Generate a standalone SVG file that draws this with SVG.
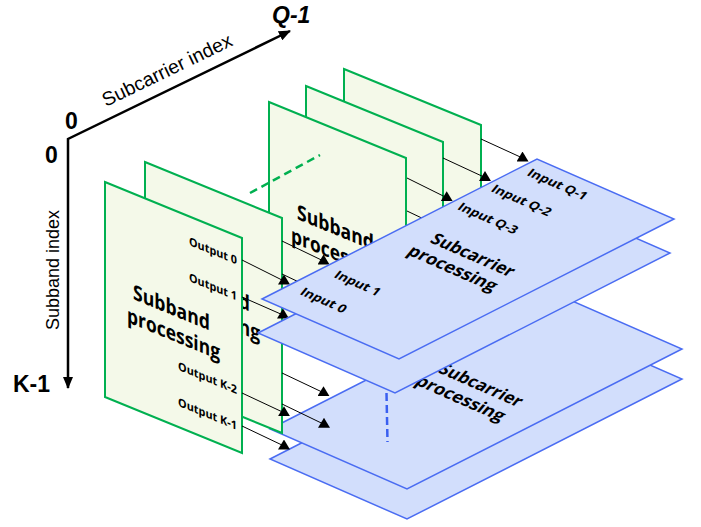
<svg xmlns="http://www.w3.org/2000/svg" width="701" height="527" viewBox="0 0 701 527">
<defs>
<style>
.gp{fill:#f4f9e9;stroke:#00b050;stroke-width:2}
.bp{fill:#d2defc;stroke:#4a6cf2;stroke-width:1.5}
.t{font-family:"Open Sans",Lato,"Liberation Sans",sans-serif;font-weight:bold;fill:#000}
.ax{font-family:"Liberation Sans",Arial,sans-serif;fill:#000}
.big{font-weight:bold;font-size:23px}
#connectors line{stroke:#000;stroke-width:1;marker-end:url(#tri)}
</style>
<marker id="tri" markerUnits="userSpaceOnUse" viewBox="0 0 12 10" markerWidth="12" markerHeight="10" refX="6" refY="6.5" orient="0"><path d="M0,10 L6,0 L12,10 Z" fill="#000"/></marker>
<marker id="axe" markerUnits="userSpaceOnUse" viewBox="0 0 12 10" markerWidth="12" markerHeight="10" refX="11" refY="5" orient="auto"><path d="M0,0 L12,5 L0,10 Z" fill="#000"/></marker>
<marker id="axs" markerUnits="userSpaceOnUse" viewBox="0 0 12 10" markerWidth="12" markerHeight="10" refX="11" refY="5" orient="auto-start-reverse"><path d="M0,0 L12,5 L0,10 Z" fill="#000"/></marker>
</defs>

<g id="axes">
<path d="M290,31 L68,139 L68,388" fill="none" stroke="#000" stroke-width="2.5" marker-start="url(#axs)" marker-end="url(#axe)"/>
<text class="ax" font-size="19.5" transform="translate(106,107) rotate(-25.9)" textLength="142" lengthAdjust="spacingAndGlyphs">Subcarrier index</text>
<text class="ax" font-size="18" transform="translate(59,330) rotate(-90)">Subband index</text>
<text class="ax big" x="65" y="129">0</text>
<text class="ax big" x="45" y="163">0</text>
<text class="ax big" x="272" y="23" font-style="italic">Q-1</text>
<text class="ax big" x="13" y="392">K-1</text>
</g>

<g id="subband-R3"><polygon class="gp" points="344,69 481,125 481,340 344,284"/></g>
<g id="subband-R2"><polygon class="gp" points="306,86 443,142 443,357 306,301"/></g>
<g id="subband-R1">
<polygon class="gp" points="269,102 406,158 406,373 269,317"/>
<text class="t" font-size="21" transform="matrix(1,0.41,0,1,297,219)" textLength="77" lengthAdjust="spacingAndGlyphs">Subband</text>
<text class="t" font-size="21" transform="matrix(1,0.41,0,1,291,242)" textLength="93" lengthAdjust="spacingAndGlyphs">processing</text>
</g>
<g id="subband-ellipsis"><line x1="250" y1="193" x2="320" y2="155" stroke="#00b050" stroke-width="2.5" stroke-dasharray="8,5"/></g>

<g id="subcarrier-P4"><polygon class="bp" points="270,459 545,319 682,379 407,519"/></g>
<g id="subcarrier-P3">
<polygon class="bp" points="270,429 545,289 682,349 407,489"/>
<text class="t" font-size="17.5" transform="matrix(0.916,0.401,-0.64,0.77,437,372)" textLength="88" lengthAdjust="spacingAndGlyphs">Subcarrier</text>
<text class="t" font-size="17.5" transform="matrix(0.916,0.401,-0.64,0.77,414,384)" textLength="94" lengthAdjust="spacingAndGlyphs">processing</text>
</g>

<g id="subband-L2">
<polygon class="gp" points="145,162 282,218 282,433 145,377"/>
<text class="t" font-size="21" transform="matrix(1,0.41,0,1,173,280)" textLength="77" lengthAdjust="spacingAndGlyphs">Subband</text>
<text class="t" font-size="21" transform="matrix(1,0.41,0,1,167,303)" textLength="93" lengthAdjust="spacingAndGlyphs">processing</text>
</g>
<g id="subband-L1">
<polygon class="gp" points="105,182 242,238 242,453 105,397"/>
<text class="t" font-size="21" transform="matrix(1,0.41,0,1,133,299)" textLength="77" lengthAdjust="spacingAndGlyphs">Subband</text>
<text class="t" font-size="21" transform="matrix(1,0.41,0,1,127,322)" textLength="93" lengthAdjust="spacingAndGlyphs">processing</text>
<text class="t" font-size="11.5" text-anchor="end" transform="matrix(1,0.41,0,1,237,264.6)" textLength="48" lengthAdjust="spacingAndGlyphs">Output 0</text>
<text class="t" font-size="11.5" text-anchor="end" transform="matrix(1,0.41,0,1,237,300.6)" textLength="48" lengthAdjust="spacingAndGlyphs">Output 1</text>
<text class="t" font-size="11.5" text-anchor="end" transform="matrix(1,0.41,0,1,237,394)" textLength="59" lengthAdjust="spacingAndGlyphs">Output K-2</text>
<text class="t" font-size="11.5" text-anchor="end" transform="matrix(1,0.41,0,1,237,430)" textLength="59" lengthAdjust="spacingAndGlyphs">Output K-1</text>
</g>

<g id="connectors">
<line x1="481" y1="139" x2="522.5" y2="158"/>
<line x1="443" y1="158" x2="485" y2="177.5"/>
<line x1="407" y1="178" x2="446.7" y2="197.7"/>
<line x1="407" y1="211" x2="447" y2="230"/>
<line x1="282" y1="241" x2="323.5" y2="261"/>
<line x1="282" y1="274" x2="324" y2="294"/>
<line x1="242" y1="260" x2="284" y2="281"/>
<line x1="242" y1="297" x2="283" y2="315"/>
<line x1="282" y1="373" x2="323.5" y2="392.7"/>
<line x1="242" y1="393" x2="284" y2="412.7"/>
<line x1="282" y1="404" x2="324" y2="424.3"/>
<line x1="242" y1="426" x2="284" y2="446"/>
</g>

<g id="subcarrier-P2"><polygon class="bp" points="258,333 533,193 670,253 395,393"/></g>
<g id="subcarrier-P1">
<polygon class="bp" points="262,299 537,159 674,219 399,359"/>
<text class="t" font-size="12.5" transform="matrix(0.916,0.401,-0.64,0.77,526,175)" textLength="63" lengthAdjust="spacingAndGlyphs">Input Q-1</text>
<text class="t" font-size="12.5" transform="matrix(0.916,0.401,-0.64,0.77,490,191)" textLength="63" lengthAdjust="spacingAndGlyphs">Input Q-2</text>
<text class="t" font-size="12.5" transform="matrix(0.916,0.401,-0.64,0.77,456.5,209)" textLength="63" lengthAdjust="spacingAndGlyphs">Input Q-3</text>
<text class="t" font-size="17.5" transform="matrix(0.916,0.401,-0.64,0.77,429,242)" textLength="88" lengthAdjust="spacingAndGlyphs">Subcarrier</text>
<text class="t" font-size="17.5" transform="matrix(0.916,0.401,-0.64,0.77,406,254)" textLength="94" lengthAdjust="spacingAndGlyphs">processing</text>
<text class="t" font-size="12.5" transform="matrix(0.916,0.401,-0.64,0.77,333,277)" textLength="48" lengthAdjust="spacingAndGlyphs">Input 1</text>
<text class="t" font-size="12.5" transform="matrix(0.916,0.401,-0.64,0.77,299,294)" textLength="48" lengthAdjust="spacingAndGlyphs">Input 0</text>
</g>
<g id="subcarrier-ellipsis"><line x1="386.5" y1="393" x2="387.5" y2="442" stroke="#3a5ff0" stroke-width="2.5" stroke-dasharray="8,4"/></g>
</svg>
